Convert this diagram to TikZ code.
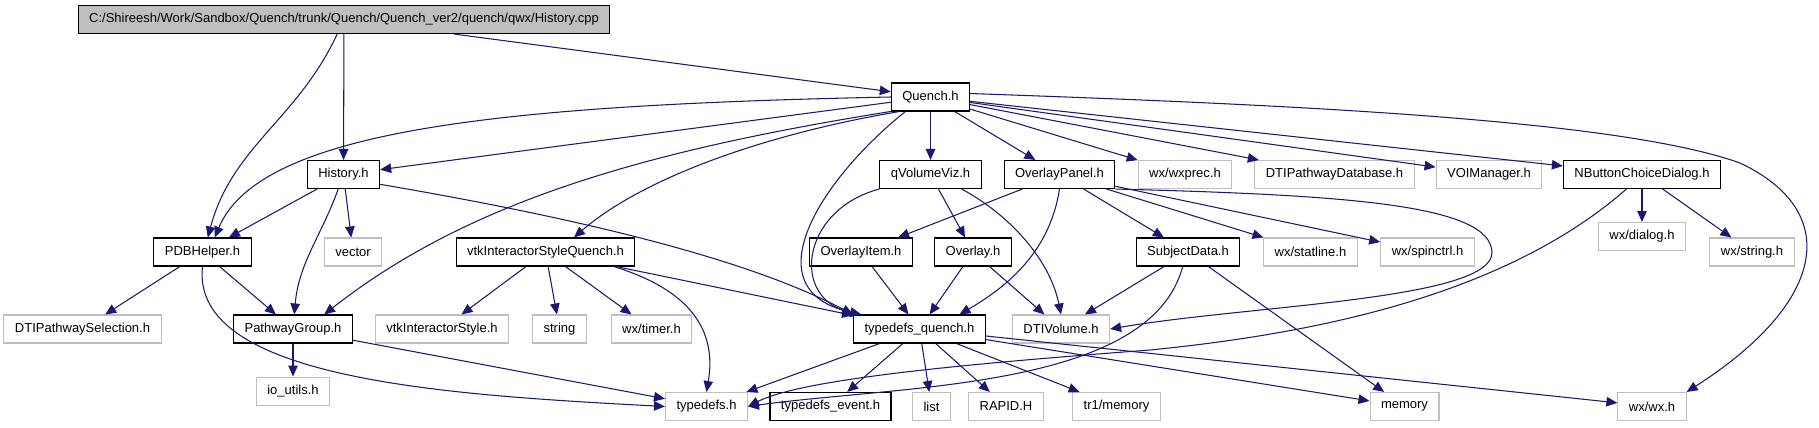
\documentclass[tikz,border=0pt]{standalone}
\usepackage{fontspec}
\setmainfont{Liberation Sans}
\usepackage{xcolor}
\usepackage{tikz}
\usetikzlibrary{arrows.meta, positioning}

\definecolor{edgeblue}{HTML}{191970}
\definecolor{grey75}{HTML}{BFBFBF}

\begin{document}
\begin{tikzpicture}[
      x=0.02cm, y=-0.02cm,
      box/.style={rectangle, draw, line width=0.6pt,
                  minimum height=0.56cm, inner xsep=0.22cm, inner ysep=0pt,
                  font=\fontsize{7.4}{8}\selectfont},
      doc/.style={box, draw=black, fill=white},
      ext/.style={box, draw=grey75, fill=white},
      rootbox/.style={doc, fill=grey75},
      arr/.style={-{Triangle[length=2.2mm,width=1.9mm]}, draw=edgeblue, line width=0.6pt},
    ]
    \useasboundingbox (0,0) rectangle (1819,427);

    % row 0 and 1
    \node[rootbox] (root)     at (344,19.5) {C:/Shireesh/Work/Sandbox/Quench/trunk/Quench/Quench\_ver2/quench/qwx/History.cpp};
    \node[doc]  (quench-h)    at (930.5,97)    {Quench.h};

    % row 2
    \node[doc]  (history-h)      at (343.5,174.5)  {History.h};
    \node[doc]  (qvolumeviz-h)   at (930.5,174.5)  {qVolumeViz.h};
    \node[doc]  (overlaypanel-h) at (1059.5,174.5) {OverlayPanel.h};
    \node[ext]  (wxprec-h)       at (1185,174.5)   {wx/wxprec.h};
    \node[ext]  (dtipathwaydb-h) at (1334.5,174.5) {DTIPathwayDatabase.h};
    \node[ext]  (voimanager-h)   at (1489,174.5)   {VOIManager.h};
    \node[doc]  (nbutton-h)      at (1642,174.5)   {NButtonChoiceDialog.h};

    % row 3
    \node[doc]  (pdbhelper-h)      at (202.5,252)  {PDBHelper.h};
    \node[ext]  (vector)           at (353,252)    {vector};
    \node[doc]  (vtkstylequench-h) at (545.5,252)  {vtkInteractorStyleQuench.h};
    \node[doc]  (overlayitem-h)    at (861,252)    {OverlayItem.h};
    \node[doc]  (overlay-h)        at (973,252)    {Overlay.h};
    \node[doc]  (subjectdata-h)    at (1188,252)   {SubjectData.h};
    \node[ext]  (statline-h)       at (1310.5,252) {wx/statline.h};
    \node[ext]  (spinctrl-h)       at (1427.5,252) {wx/spinctrl.h};
    \node[ext]  (dialog-h)         [below=0.66cm of nbutton-h] {wx/dialog.h};
    \node[ext]  (wxstring-h)       at (1752,252)   {wx/string.h};

    % row 4
    \node[ext]  (dtiselection-h) at (82.5,329)  {DTIPathwaySelection.h};
    \node[doc]  (pathwaygroup-h) at (293,329)   {PathwayGroup.h};
    \node[ext]  (vtkstyle-h)     at (442,329)   {vtkInteractorStyle.h};
    \node[ext]  (string)         at (559.5,329) {string};
    \node[ext]  (timer-h)        at (651.5,329) {wx/timer.h};
    \node[doc]  (tdquench-h)     at (919.5,329) {typedefs\_quench.h};
    \node[ext]  (dtivolume-h)    at (1061,329)  {DTIVolume.h};

    % row 5
    \node[ext]  (ioutils-h)  [below=0.66cm of pathwaygroup-h] {io\_utils.h};
    \node[ext]  (typedefs-h) at (706.5,406.5)  {typedefs.h};
    \node[doc]  (tdevent-h)  at (830.5,406.5)  {typedefs\_event.h};
    \node[ext]  (list)       at (931.5,406.5)  {list};
    \node[ext]  (rapid-h)    at (1006,406.5)   {RAPID.H};
    \node[ext]  (tr1memory)  at (1116.5,406.5) {tr1/memory};
    \node[ext]  (memory)     at (1404.5,406.5) {memory};
    \node[ext]  (wx-h)       at (1652,406.5)   {wx/wx.h};

    % History.cpp
    \draw[arr] (root) -- (quench-h);
    \draw[arr] (root) -- (history-h);
    \draw[arr] (root) to[out=-115,in=75] (pdbhelper-h.70);

    % Quench.h
    \draw[arr] (quench-h) -- (history-h);
    \draw[arr] (quench-h.west) .. controls (500,105) and (260,130) .. (pdbhelper-h.50);
    \draw[arr] (quench-h.200) .. controls (650,150) and (470,200) .. (pathwaygroup-h.25);
    \draw[arr] (quench-h.205) .. controls (760,135) and (640,180) .. (vtkstylequench-h.27);
    \draw[arr] (quench-h.210) .. controls (820,180) and (750,290) .. (tdquench-h.166);
    \draw[arr] (quench-h) -- (qvolumeviz-h);
    \draw[arr] (quench-h) -- (overlaypanel-h);
    \draw[arr] (quench-h) -- (wxprec-h);
    \draw[arr] (quench-h) -- (dtipathwaydb-h);
    \draw[arr] (quench-h) -- (voimanager-h);
    \draw[arr] (quench-h) -- (nbutton-h);
    \draw[arr] (quench-h.5) .. controls (1300,105) and (1620,120) .. (1740,163)
               .. controls (1840,210) and (1830,300) .. (wx-h.north east);

    % History.h
    \draw[arr] (history-h) -- (pdbhelper-h);
    \draw[arr] (history-h) -- (vector);
    \draw[arr] (history-h) to[out=-110,in=85] (pathwaygroup-h);
    \draw[arr] (history-h.-15) .. controls (560,215) and (740,255) .. (tdquench-h.north west);

    % PDBHelper.h, PathwayGroup.h
    \draw[arr] (pdbhelper-h) -- (dtiselection-h);
    \draw[arr] (pdbhelper-h) -- (pathwaygroup-h);
    \draw[arr] (pdbhelper-h.south) .. controls (190,380) and (450,395) .. (typedefs-h.west);
    \draw[arr] (pathwaygroup-h) -- (ioutils-h);
    \draw[arr] (pathwaygroup-h) -- (typedefs-h);

    % vtkInteractorStyleQuench.h
    \draw[arr] (vtkstylequench-h) -- (vtkstyle-h);
    \draw[arr] (vtkstylequench-h) -- (string);
    \draw[arr] (vtkstylequench-h) -- (timer-h);
    \draw[arr] (vtkstylequench-h) -- (tdquench-h);
    \draw[arr] (vtkstylequench-h.-12) .. controls (690,290) and (717,330) .. (typedefs-h.north);

    % qVolumeViz.h
    \draw[arr] (qvolumeviz-h.south west) .. controls (800,210) and (790,300) .. (tdquench-h.166);
    \draw[arr] (qvolumeviz-h) -- (overlay-h);
    \draw[arr] (qvolumeviz-h.-25) .. controls (1010,215) and (1050,260) .. (dtivolume-h.north);

    % OverlayPanel.h
    \draw[arr] (overlaypanel-h) -- (overlayitem-h);
    \draw[arr] (overlaypanel-h.south) .. controls (1050,250) and (1010,285) .. (tdquench-h.20);
    \draw[arr] (overlaypanel-h) -- (subjectdata-h);
    \draw[arr] (overlaypanel-h) -- (statline-h);
    \draw[arr] (overlaypanel-h) -- (spinctrl-h);
    \draw[arr] (overlaypanel-h.south east) .. controls (1350,195) and (1490,205) .. (1492,252)
               .. controls (1494,300) and (1250,305) .. (dtivolume-h.east);

    % OverlayItem.h, Overlay.h, SubjectData.h
    \draw[arr] (overlayitem-h) -- (tdquench-h);
    \draw[arr] (overlay-h) -- (tdquench-h);
    \draw[arr] (overlay-h) -- (dtivolume-h);
    \draw[arr] (subjectdata-h) -- (dtivolume-h);
    \draw[arr] (subjectdata-h) -- (memory);
    \draw[arr] (subjectdata-h.-110) .. controls (1150,390) and (900,385) .. (typedefs-h.east);

    % NButtonChoiceDialog.h
    \draw[arr] (nbutton-h) -- (dialog-h);
    \draw[arr] (nbutton-h) -- (wxstring-h);
    \draw[arr] (nbutton-h.-137) .. controls (1500,300) and (1300,335) .. (1150,350)
               .. controls (950,365) and (800,380) .. (typedefs-h.east);

    % typedefs_quench.h
    \draw[arr] (tdquench-h) -- (typedefs-h);
    \draw[arr] (tdquench-h) -- (tdevent-h);
    \draw[arr] (tdquench-h) -- (list);
    \draw[arr] (tdquench-h) -- (rapid-h);
    \draw[arr] (tdquench-h) -- (tr1memory);
    \draw[arr] (tdquench-h) -- (memory);
    \draw[arr] (tdquench-h) -- (wx-h);
  \end{tikzpicture}
\end{document}
